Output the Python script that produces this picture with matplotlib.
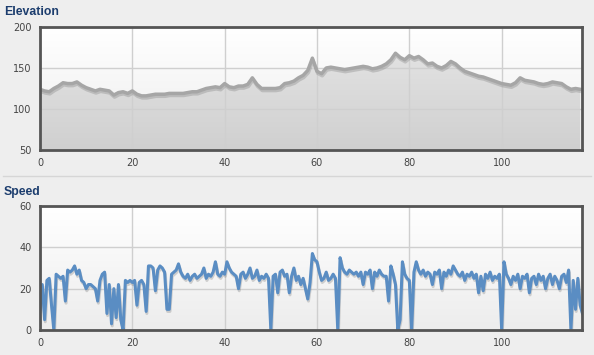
import numpy as np
import matplotlib
matplotlib.use("Agg")
import matplotlib.pyplot as plt
import matplotlib.patheffects as pe
from matplotlib.colors import LinearSegmentedColormap

# elevation, one reading per distance unit (0..117)
elevation = [124, 122, 121, 125, 128, 132, 131, 131, 133, 129,
             126, 124, 122, 124, 123, 122, 117, 120, 121, 119,
             122, 118, 116, 116, 117, 118, 118, 118, 119, 119,
             119, 119, 120, 121, 121, 123, 125, 126, 127, 126,
             131, 127, 126, 128, 128, 130, 138, 130, 125, 125,
             125, 125, 126, 131, 132, 134, 138, 141, 147, 162,
             146, 143, 150, 151, 150, 149, 148, 149, 150, 151,
             152, 151, 149, 150, 152, 155, 160, 168, 163, 160,
             165, 162, 164, 160, 155, 156, 152, 150, 153, 158,
             155, 150, 146, 144, 142, 140, 139, 137, 135, 133,
             131, 130, 129, 132, 138, 135, 134, 133, 131, 130,
             131, 133, 132, 131, 127, 124, 125, 124]
elev_step = 1.0

# speed, one reading per half unit (0..117.5)
speed = [10, 22, 5, 24, 25, 12, 0, 27, 26, 25,
         26, 14, 29, 28, 29, 31, 27, 29, 24, 23,
         20, 22, 22, 21, 20, 14, 24, 27, 28, 8,
         22, 3, 20, 6, 22, 5, 0, 24, 23, 24,
         23, 24, 12, 23, 24, 22, 9, 31, 31, 30,
         19, 29, 31, 30, 28, 10, 10, 27, 28, 29,
         32, 28, 26, 25, 27, 24, 26, 27, 25, 26,
         27, 30, 25, 27, 26, 28, 33, 27, 26, 28,
         27, 33, 30, 28, 27, 26, 20, 27, 28, 25,
         27, 30, 25, 26, 29, 24, 26, 25, 27, 25,
         0, 26, 27, 18, 28, 29, 26, 27, 18, 26,
         30, 24, 26, 22, 25, 20, 15, 23, 37, 34,
         33, 28, 24, 25, 28, 24, 25, 27, 25, 0,
         35, 30, 28, 27, 29, 28, 27, 28, 26, 28,
         22, 28, 27, 29, 20, 28, 26, 29, 27, 26,
         26, 14, 31, 27, 22, 0, 5, 33, 27, 25,
         24, 0, 28, 33, 29, 27, 29, 26, 28, 27,
         22, 28, 27, 29, 20, 28, 26, 29, 27, 31,
         29, 27, 26, 28, 24, 27, 26, 28, 25, 27,
         18, 26, 19, 27, 25, 28, 24, 26, 25, 27,
         0, 33, 27, 25, 22, 26, 24, 27, 20, 26,
         25, 27, 18, 25, 26, 22, 27, 24, 26, 20,
         25, 27, 22, 26, 24, 20, 26, 27, 23, 29,
         0, 24, 10, 25, 12, 8]
speed_step = 0.5

x_ticks = [0, 20, 40, 60, 80, 100]
elev_ticks = [50, 100, 150, 200]
speed_ticks = [0, 20, 40, 60]
x_max = 117.4

elev_x = np.arange(len(elevation)) * elev_step
speed_x = np.arange(len(speed)) * speed_step

fig = plt.figure(figsize=(5.94, 3.55), dpi=100)
fig.patch.set_facecolor("#eeeeee")

ax1 = fig.add_axes([0.0673, 0.5775, 0.9125, 0.3465])
ax2 = fig.add_axes([0.0673, 0.0704, 0.9125, 0.3493])

grad = np.linspace(0, 1, 100).reshape(-1, 1)
bg_cmap = LinearSegmentedColormap.from_list("bg", ["#ffffff", "#ededed"])


def style(ax, ylo, yhi, yticks):
    ax.set_xlim(0, x_max)
    ax.set_ylim(ylo, yhi)
    ax.set_xticks(x_ticks)
    ax.set_yticks(yticks)
    ax.tick_params(length=0, labelsize=7, labelcolor="#444444", pad=6)
    for s in ax.spines.values():
        s.set_color("#555555")
        s.set_linewidth(2)
        s.set_zorder(10)
    # white to light grey plot background
    ax.imshow(grad, extent=[0, x_max, ylo, yhi], aspect="auto",
              cmap=bg_cmap, origin="upper", zorder=0)
    ax.grid(True, color="#cfcfcf", linewidth=1, zorder=2)
    ax.set_axisbelow(False)


style(ax1, 50, 200, elev_ticks)
style(ax2, 0, 60, speed_ticks)

# elevation area with gradient fill
poly = ax1.fill_between(elev_x, elevation, 50, color="none", linewidth=0, zorder=1)
fill_cmap = LinearSegmentedColormap.from_list("fl", ["#e2e2e2", "#d0d0d0"])
img = ax1.imshow(grad, extent=[0, x_max, 50, 170], aspect="auto",
                 cmap=fill_cmap, origin="upper", zorder=1)
img.set_clip_path(poly.get_paths()[0], transform=ax1.transData)
shadow = [pe.SimpleLineShadow(offset=(0.5, -1.5), shadow_color="#777777", alpha=0.3), pe.Normal()]
ax1.plot(elev_x, elevation, color="#a6a6a6", linewidth=2.5, zorder=3, path_effects=shadow)
ax1.set_ylim(50, 200)
ax1.set_xlim(0, x_max)

ax2.plot(speed_x, speed, color="#5a8dc3", linewidth=2.2, zorder=3, path_effects=shadow)
ax2.set_ylim(0, 60)
ax2.set_xlim(0, x_max)

fig.text(4 / 594, 1 - 12 / 355, "Elevation", fontsize=8.8, fontweight="bold",
         family="Liberation Sans", color="#1c3d6e", va="center", ha="left")
fig.text(4 / 594, 1 - 192 / 355, "Speed", fontsize=8.8, fontweight="bold",
         family="Liberation Sans", color="#1c3d6e", va="center", ha="left")
fig.add_artist(plt.Line2D([0.005, 0.995], [1 - 176 / 355, 1 - 176 / 355],
                          color="#d6d6d6", linewidth=1))

fig.savefig("out.png", dpi=100, facecolor=fig.get_facecolor())
